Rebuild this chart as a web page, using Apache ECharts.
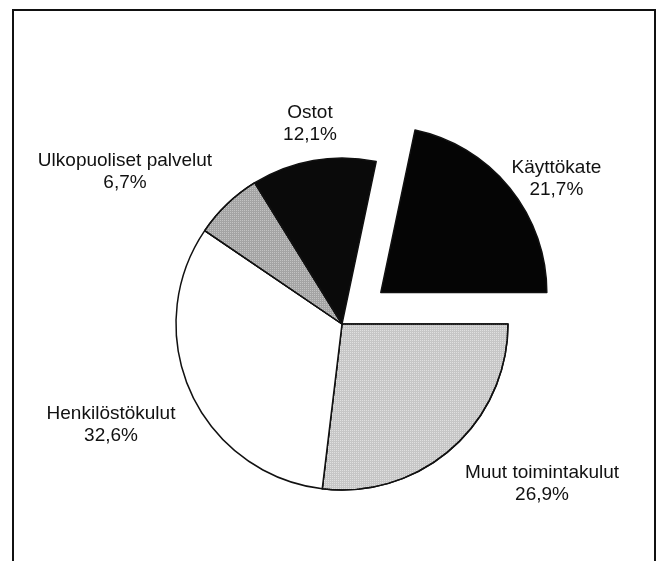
<!DOCTYPE html>
<html>
<head>
<meta charset="utf-8">
<script src="https://cdn.jsdelivr.net/npm/echarts@6/dist/echarts.min.js"></script>
<style>
  html, body { margin: 0; padding: 0; background: #fff; }
  #chart { width: 657px; height: 561px; }
</style>
</head>
<body>
<div id="chart"></div>
<script>
// slices, clockwise from 3 o'clock
const names = ['Muut toimintakulut', 'Henkilöstökulut', 'Ulkopuoliset palvelut', 'Ostot', 'Käyttökate']
const shares = [26.9, 32.6, 6.7, 12.1, 21.7]
const fills = ['#c6c6c6', '#ffffff', '#a4a4a4', '#0a0a0a', '#050505']
const exploded = 'Käyttökate'

// label centres (px)
const labelPos = [[542, 484], [111, 425], [125, 172], [310, 124], [567, 158]]

const fmt = (v) => v.toFixed(1).replace('.', ',') + '%'

const dotDecal = (c) => ({
  symbol: 'rect',
  symbolSize: 1,
  color: c,
  dashArrayX: [1, 1],
  dashArrayY: [1, 1],
  rotation: 0
})

const chart = echarts.init(document.getElementById('chart'))
const option = {
  backgroundColor: '#fff',
  animation: false,
  graphic: [{
    type: 'rect',
    shape: { x: 13, y: 10, width: 642, height: 580 },
    style: { fill: 'none', stroke: '#111', lineWidth: 2 },
    silent: true
  }],
  series: [{
    type: 'pie',
    center: [342, 324],
    radius: 166,
    startAngle: 0,
    clockwise: true,
    selectedMode: 'single',
    selectedOffset: 50,
    emphasis: { disabled: true },
    labelLine: { show: false },
    label: {
      show: true,
      position: 'outside',
      overflow: 'none',
      edgeDistance: 0,
      formatter: (p) => p.name + '\n' + fmt(p.value),
      fontFamily: 'Liberation Sans, Arial, sans-serif',
      fontSize: 19,
      lineHeight: 22,
      color: '#111',
      align: 'center'
    },
    labelLayout: (p) => ({
      x: labelPos[p.dataIndex][0],
      y: labelPos[p.dataIndex][1],
      align: 'center',
      verticalAlign: 'middle'
    }),
    itemStyle: { borderColor: '#111', borderWidth: 1.5 },
    data: names.map((n, i) => {
      const style = { color: fills[i] }
      if (i === 0) style.decal = dotDecal('rgba(255,255,255,0.45)')
      if (i === 2) style.decal = dotDecal('rgba(255,255,255,0.35)')
      return {
        name: n,
        value: shares[i],
        selected: n === exploded,
        itemStyle: style
      }
    })
  }]
}
chart.setOption(option)
</script>
</body>
</html>
